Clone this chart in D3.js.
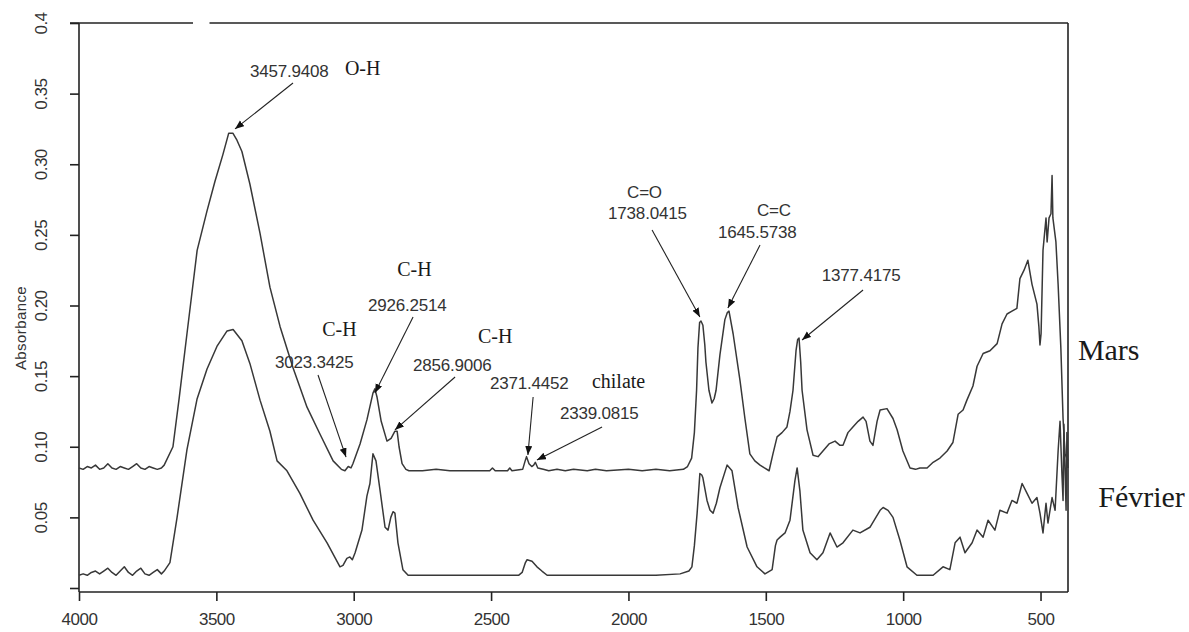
<!DOCTYPE html>
<html>
<head>
<meta charset="utf-8">
<script src="https://cdn.jsdelivr.net/npm/d3@7"></script>
<style>
  body { margin: 0; background: #fff; }
  svg text { font-family: "Liberation Sans", Arial, sans-serif; fill: #333; }
  .serif { font-family: "Liberation Serif", "Times New Roman", serif !important; fill: #1a1a1a !important; }
</style>
</head>
<body>
<svg id="chart" width="1189" height="632"></svg>
<script>
// spectra, [wavenumber, absorbance]
var mars = [[4000,.085],[3985,.084],[3970,.086],[3955,.085],[3940,.087],[3925,.084],[3910,.085],[3895,.088],[3880,.085],[3865,.084],[3850,.086],[3835,.085],[3820,.084],[3805,.086],[3790,.088],[3775,.085],[3760,.084],[3745,.086],[3730,.085],[3715,.084],[3700,.085],[3690,.087],
  [3658,.100],[3635,.135],[3607,.180],[3570,.239],[3534,.267],[3505,.288],[3476,.307],[3455,.322],[3440,.322],[3425,.317],[3407,.309],[3378,.286],[3341,.251],[3305,.213],[3268,.185],[3221,.156],[3170,.128],[3123,.109],[3075,.090],[3045,.084],[3032,.083],[3020,.086],[3010,.085],[3003,.088],[2977,.102],[2952,.119],[2930,.138],[2923,.141],[2915,.135],[2900,.118],[2879,.104],[2864,.106],[2850,.111],[2842,.111],[2835,.100],[2824,.088],[2810,.084],[2799,.083],
  [2750,.083],[2700,.084],[2650,.083],[2600,.083],[2505,.083],[2495,.085],[2485,.083],[2440,.083],[2432,.085],[2424,.083],[2385,.084],[2376,.090],[2371,.093],[2362,.088],[2352,.086],[2345,.087],[2339,.089],[2330,.085],[2310,.084],[2290,.083],[2260,.084],[2230,.083],[2200,.084],[2150,.083],[2120,.084],[2080,.083],[2000,.084],[1950,.083],[1900,.084],[1850,.083],[1800,.084],[1785,.086],
  [1770,.092],[1760,.110],[1752,.140],[1747,.170],[1741,.188],[1736,.189],[1729,.186],[1722,.172],[1718,.160],[1707,.140],[1696,.131],[1688,.134],[1681,.140],[1667,.165],[1649,.190],[1640,.195],[1634,.196],[1619,.180],[1594,.147],[1576,.120],[1558,.095],[1540,.090],[1521,.087],[1505,.085],[1488,.083],[1474,.095],[1459,.107],[1441,.110],[1423,.114],[1412,.125],[1401,.140],[1390,.168],[1384,.176],[1379,.177],[1373,.160],[1368,.140],[1350,.112],[1328,.094],[1310,.093],[1292,.097],[1270,.102],[1248,.104],[1230,.101],[1219,.101],[1201,.110],[1183,.114],[1164,.118],[1146,.121],[1135,.118],[1121,.104],[1110,.101],[1095,.118],[1084,.126],[1059,.127],[1037,.120],[1022,.112],[1001,.097],[975,.085],[955,.084],[939,.085],[913,.085],[891,.089],[866,.092],[840,.097],[819,.103],[800,.123],[782,.126],[768,.133],[746,.143],[731,.157],[709,.166],[684,.168],[658,.173],[640,.187],[622,.194],[604,.196],[586,.198],[575,.219],[560,.225],[546,.232],[531,.215],[513,.201],[506,.185],[502,.172],[498,.180],[491,.239],[480,.262],[476,.245],[469,.262],[462,.265],[458,.292],[455,.262],[444,.245],[436,.215],[426,.170],[418,.120],[411,.095],[400,.090]];

var fevrier = [[4000,.009],[3985,.010],[3970,.009],[3955,.011],[3940,.012],[3925,.010],[3910,.012],[3895,.014],[3880,.011],[3865,.009],[3850,.012],[3835,.015],[3820,.011],[3805,.009],[3790,.012],[3775,.014],[3760,.010],[3745,.009],[3730,.011],[3715,.013],[3700,.010],[3690,.012],
  [3669,.018],[3643,.050],[3607,.098],[3570,.134],[3534,.155],[3498,.171],[3461,.182],[3439,.183],[3407,.175],[3378,.159],[3341,.133],[3305,.111],[3279,.090],[3243,.083],[3196,.067],[3148,.048],[3097,.032],[3050,.015],[3039,.016],[3025,.021],[3014,.022],[3005,.020],[2995,.025],[2970,.041],[2952,.065],[2941,.074],[2930,.095],[2919,.090],[2904,.069],[2886,.043],[2875,.041],[2865,.050],[2857,.054],[2850,.053],[2839,.032],[2821,.013],[2802,.009],
  [2700,.009],[2600,.009],[2500,.009],[2400,.009],[2387,.011],[2375,.018],[2369,.020],[2351,.019],[2333,.015],[2315,.012],[2296,.009],[2200,.009],[2100,.009],[2000,.009],[1900,.009],[1812,.010],
  [1780,.012],[1769,.015],[1760,.030],[1750,.053],[1740,.081],[1733,.080],[1729,.078],[1714,.062],[1703,.055],[1692,.053],[1680,.060],[1667,.071],[1641,.087],[1623,.083],[1601,.057],[1568,.029],[1532,.015],[1503,.010],[1477,.013],[1465,.030],[1459,.034],[1448,.036],[1430,.039],[1412,.048],[1394,.076],[1386,.085],[1376,.069],[1365,.041],[1339,.025],[1314,.020],[1292,.025],[1266,.039],[1241,.029],[1219,.032],[1183,.041],[1157,.039],[1121,.043],[1084,.055],[1073,.057],[1055,.055],[1037,.050],[1012,.034],[986,.015],[950,.009],[891,.009],[855,.015],[830,.013],[811,.032],[793,.036],[775,.025],[749,.032],[731,.041],[709,.036],[691,.048],[666,.041],[648,.055],[622,.053],[604,.062],[586,.060],[567,.074],[549,.067],[531,.060],[513,.064],[502,.053],[491,.039],[480,.060],[473,.046],[458,.064],[447,.055],[436,.097],[429,.118],[422,.080],[418,.062],[415,.116],[407,.055],[404,.110],[400,.085]];

var xTicks = [4000, 3500, 3000, 2500, 2000, 1500, 1000, 500];
var yTicks = [0, 0.05, 0.10, 0.15, 0.20, 0.25, 0.30, 0.35, 0.4];
var yTickLabels = ["", "0.05", "0.10", "0.15", "0.20", "0.25", "0.30", "0.35", "0.4"];

// peak callouts: arrow tip, arrow tail, then text lines [text, wn, abs, serif?]
var callouts = [
  {tip: [3432, .325], tail: [3221, .3575], texts: [["3457.9408", 3378, .3618, false], ["O-H", 3032, .3632, true]]},
  {tip: [3028, .0927], tail: [3130, .1508], texts: [["C-H", 3115, .1784, true], ["3023.3425", 3287, .1558, false]]},
  {tip: [2923, .1381], tail: [2784, .1919], texts: [["C-H", 2842, .2209, true], ["2926.2514", 2948, .1961, false]]},
  {tip: [2850, .1119], tail: [2631, .1494], texts: [["C-H", 2548, .1735, true], ["2856.9006", 2784, .1536, false]]},
  {tip: [2366, .0942], tail: [2347, .1352], texts: [["2371.4452", 2504, .1409, false], ["chilate", 2133, .1416, true]]},
  {tip: [2333, .0906], tail: [2096, .1140], texts: [["2339.0815", 2249, .1196, false]]},
  {tip: [1740, .1919], tail: [1914, .2535], texts: [["C=O", 2005, .2761, false], ["1738.0415", 2074, .2612, false]]},
  {tip: [1638, .1982], tail: [1521, .2428], texts: [["C=C", 1532, .2634, false], ["1645.5738", 1674, .2478, false]]},
  {tip: [1368, .1756], tail: [1146, .2110], texts: [["1377.4175", 1296, .2173, false]]}
];
var seriesLabels = [["Mars", 364, .1614], ["Février", 290, .0573]];

var svg = d3.select("#chart");
var x = d3.scaleLinear().domain([4000, 400]).range([79, 1068]);
var y = d3.scaleLinear().domain([0, 0.4]).range([588, 23]);
var axisY = 592;

var line = d3.line()
  .x(function(d){ return x(d[0]); })
  .y(function(d){ return y(d[1]); });

// frame
var frame = svg.append("g").attr("stroke", "#222").attr("stroke-width", 1.6).attr("fill", "none");
frame.append("line").attr("x1", x(4000)).attr("x2", x(4000)).attr("y1", y(0.4)).attr("y2", axisY);
frame.append("line").attr("x1", x(400)).attr("x2", x(400)).attr("y1", y(0.4)).attr("y2", axisY);
frame.append("line").attr("x1", x(4000)).attr("x2", x(400)).attr("y1", axisY).attr("y2", axisY);
// top edge has a small break in the original
frame.append("line").attr("x1", x(4000) - 9).attr("x2", x(3585)).attr("y1", y(0.4)).attr("y2", y(0.4));
frame.append("line").attr("x1", x(3525)).attr("x2", x(400)).attr("y1", y(0.4)).attr("y2", y(0.4));

// x axis
var xAxis = d3.axisBottom(x).tickValues(xTicks).tickSize(9).tickPadding(12).tickFormat(d3.format("d"));
var gx = svg.append("g").attr("transform", "translate(0," + axisY + ")").call(xAxis);
gx.select(".domain").remove();
gx.selectAll(".tick line").attr("stroke", "#222").attr("stroke-width", 1.6);
gx.selectAll(".tick text").attr("font-size", 17).attr("fill", "#333").style("letter-spacing", "-0.5px");

// y axis
var yAxis = d3.axisLeft(y).tickValues(yTicks).tickSize(9).tickFormat(function(d, i){ return yTickLabels[i]; });
var gy = svg.append("g").attr("transform", "translate(" + x(4000) + ",0)").call(yAxis);
gy.select(".domain").remove();
gy.selectAll(".tick line").attr("stroke", "#222").attr("stroke-width", 1.6);
gy.selectAll(".tick text")
  .attr("font-size", 17).attr("fill", "#333")
  .attr("x", 0).attr("dy", 0)
  .attr("text-anchor", "middle")
  .attr("transform", "translate(-32,0) rotate(-90)")
  .style("letter-spacing", "-0.5px");

svg.append("text")
  .attr("transform", "translate(26," + 328 + ") rotate(-90)")
  .attr("text-anchor", "middle")
  .attr("font-size", 15)
  .attr("fill", "#333")
  .style("letter-spacing", "0.4px")
  .text("Absorbance");

// spectra
[mars, fevrier].forEach(function(s){
  svg.append("path").datum(s)
    .attr("d", line)
    .attr("fill", "none")
    .attr("stroke", "#383838")
    .attr("stroke-width", 1.5)
    .attr("stroke-linejoin", "round");
});

// arrowheads
svg.append("defs").append("marker")
  .attr("id", "head")
  .attr("markerUnits", "userSpaceOnUse")
  .attr("markerWidth", 10).attr("markerHeight", 8)
  .attr("refX", 9).attr("refY", 3.5)
  .attr("orient", "auto")
  .append("path").attr("d", "M0,0 L9,3.5 L0,7 z").attr("fill", "#111");

callouts.forEach(function(c){
  svg.append("line")
    .attr("x1", x(c.tail[0])).attr("y1", y(c.tail[1]))
    .attr("x2", x(c.tip[0])).attr("y2", y(c.tip[1]))
    .attr("stroke", "#222").attr("stroke-width", 1.1)
    .attr("marker-end", "url(#head)");
  c.texts.forEach(function(t){
    svg.append("text")
      .attr("x", x(t[1])).attr("y", y(t[2]))
      .attr("class", t[3] ? "serif" : null)
      .attr("font-size", t[3] ? 20 : 17)
      .style("letter-spacing", t[3] ? "0px" : "-0.2px")
      .text(t[0]);
  });
});

seriesLabels.forEach(function(l){
  svg.append("text")
    .attr("class", "serif")
    .attr("x", x(l[1])).attr("y", y(l[2]))
    .attr("font-size", 30)
    .text(l[0]);
});
</script>
</body>
</html>
